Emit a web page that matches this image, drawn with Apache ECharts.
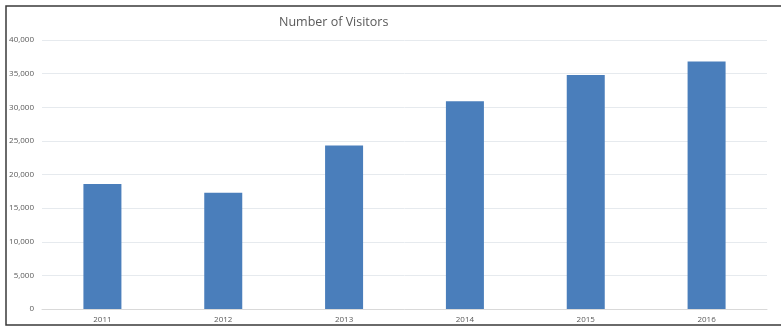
<!DOCTYPE html>
<html>
<head>
<meta charset="utf-8">
<script src="https://cdn.jsdelivr.net/npm/echarts@6/dist/echarts.min.js"></script>
<style>
  html, body { margin: 0; padding: 0; background: #fff; }
  #chart { width: 781px; height: 329px; }
</style>
</head>
<body>
<div id="chart"></div>
<script>
const years = ['2011', '2012', '2013', '2014', '2015', '2016']
const visitors = [18600, 17300, 24300, 30900, 34800, 36800]

const chart = echarts.init(document.getElementById('chart'))

chart.setOption({
  animation: false,
  title: {
    text: 'Number of Visitors',
    left: 274,
    top: 11,
    textStyle: { color: '#595959', fontSize: 12.5, fontWeight: 'normal', fontFamily: 'Open Sans' },
  },
  grid: { left: 42, right: 14, top: 40, bottom: 20 },
  graphic: [
    {
      type: 'rect',
      shape: { x: 6, y: 6, width: 1000, height: 319 },
      style: { fill: 'none', stroke: '#3a3a3a', lineWidth: 1.5 },
      silent: true,
    },
  ],
  xAxis: {
    type: 'category',
    data: years,
    axisLine: { lineStyle: { color: '#d9d9d9' } },
    axisTick: { show: false },
    axisLabel: { color: '#595959', fontSize: 8, margin: 7, fontFamily: 'Open Sans' },
  },
  yAxis: {
    type: 'value',
    min: 0,
    max: 40000,
    interval: 5000,
    axisLine: { show: false },
    axisTick: { show: false },
    axisLabel: {
      color: '#595959',
      fontSize: 8,
      margin: 8,
      fontFamily: 'Open Sans',
      formatter: v => v.toLocaleString('en-US'),
    },
    splitLine: { lineStyle: { color: '#e6eaee', width: 1 } },
  },
  series: [
    {
      type: 'bar',
      data: visitors,
      barWidth: 38,
      itemStyle: { color: '#4a7ebb' },
    },
  ],
})
</script>
</body>
</html>
